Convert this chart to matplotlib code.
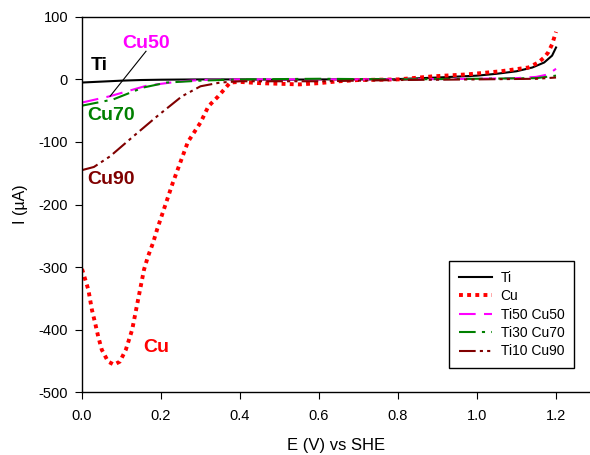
import matplotlib
matplotlib.use("Agg")
from matplotlib import pyplot as plt

plt.rcParams['font.family'] = ['Liberation Sans', 'DejaVu Sans']
plt.rcParams['axes.unicode_minus'] = False

# potential (V vs SHE) and current (uA)
ti_E = [0, 0.05, 0.1, 0.15, 0.2, 0.3, 0.4, 0.5, 0.6, 0.7, 0.8, 0.9, 1.0, 1.05, 1.1, 1.14, 1.17, 1.19, 1.2]
ti_I = [-5, -3.5, -2, -1, -0.5, 0, 0, -0.5, 0, 0, 0.5, 3, 6, 9, 13, 19, 27, 38, 51]

cu_E = [0, 0.016, 0.025, 0.033, 0.041, 0.05, 0.066, 0.081, 0.096, 0.111, 0.127, 0.137, 0.147,
        0.157, 0.167, 0.18, 0.19, 0.23, 0.268, 0.3, 0.32, 0.345, 0.375, 0.4, 0.45, 0.5, 0.55,
        0.6, 0.65, 0.7, 0.8, 0.89, 0.975, 1.06, 1.13, 1.155, 1.17, 1.18, 1.19, 1.2]
cu_I = [-303, -336, -368, -389, -411, -432, -451, -456, -451, -432, -400, -368, -336,
        -304, -283, -261, -240, -165, -100, -69, -43, -27, -5, -4, -6, -7, -8,
        -6, -3, -1, 0, 5, 8, 13, 19, 27, 35, 43, 56, 76]

cu50_E = [0, 0.07, 0.164, 0.25, 0.3, 0.4, 0.6, 0.8, 1.0, 1.1, 1.15, 1.18, 1.2]
cu50_I = [-37, -27, -10, -3, -1, 0, 0, 0, 1, 2, 4, 8, 17]

cu70_E = [0, 0.079, 0.155, 0.215, 0.3, 0.4, 0.6, 0.8, 1.0, 1.15, 1.2]
cu70_I = [-42, -32, -13, -5, -2, 0, 1, 0, 1, 2, 6]

cu90_E = [0, 0.03, 0.071, 0.13, 0.19, 0.253, 0.3, 0.35, 0.4, 0.6, 0.8, 1.0, 1.15, 1.2]
cu90_I = [-145, -140, -123, -91, -59, -27, -11, -5, -3, -3, -1, 0, 1, 3]

fig = plt.figure(figsize=(5.9, 4.55), dpi=100)
ax = fig.add_axes([0.139, 0.138, 0.861, 0.825])

ax.plot(ti_E, ti_I, color='black', lw=1.5, label='Ti')
ax.plot(cu_E, cu_I, color='red', lw=2.8, linestyle=(0, (1, 1.1)), dash_capstyle='butt', label='Cu')
ax.plot(cu50_E, cu50_I, color='#FF00FF', lw=1.5, linestyle=(0, (8, 4)), label='Ti50 Cu50')
ax.plot(cu70_E, cu70_I, color='#008000', lw=1.5, linestyle=(0, (8, 3, 1.5, 3)), label='Ti30 Cu70')
ax.plot(cu90_E, cu90_I, color='#800000', lw=1.5, linestyle=(0, (8, 2, 1.5, 2, 1.5, 2)), label='Ti10 Cu90')

# labels next to the curves
lab = dict(fontsize=14, fontweight='bold', va='center')
ax.text(0.023, 22, 'Ti', color='black', **lab)
ax.text(0.101, 58, 'Cu50', color='#FF00FF', **lab)
ax.text(0.013, -58, 'Cu70', color='#008000', **lab)
ax.text(0.013, -160, 'Cu90', color='#800000', **lab)
ax.text(0.155, -429, 'Cu', color='red', **lab)
ax.plot([0.162, 0.071], [45, -27], color='black', lw=0.8)

ax.set_xlim(0, 1.286)
ax.set_ylim(-500, 100)
ax.set_xticks([0, 0.2, 0.4, 0.6, 0.8, 1.0, 1.2])
ax.set_xticklabels(['0.0', '0.2', '0.4', '0.6', '0.8', '1.0', '1.2'])
ax.set_yticks(range(-500, 101, 100))
ax.spines['right'].set_visible(False)
for s in ax.spines.values():
    s.set_linewidth(1.0)
ax.tick_params(direction='out', length=5, labelsize=10.5)
ax.tick_params(axis='x', pad=7)
ax.tick_params(axis='y', pad=5)
ax.set_xlabel('E (V) vs SHE', fontsize=12, labelpad=11)
ax.set_ylabel('I (\u00b5A)', fontsize=11.5, labelpad=8)

leg = ax.legend(loc='lower right', bbox_to_anchor=(0.9685, 0.064), borderaxespad=0,
                fontsize=10, fancybox=False, framealpha=1, edgecolor='black',
                handlelength=2.4, handletextpad=0.6, labelspacing=0.32, borderpad=0.7)
leg.get_frame().set_linewidth(1.0)

fig.savefig('out.png', dpi=100)
